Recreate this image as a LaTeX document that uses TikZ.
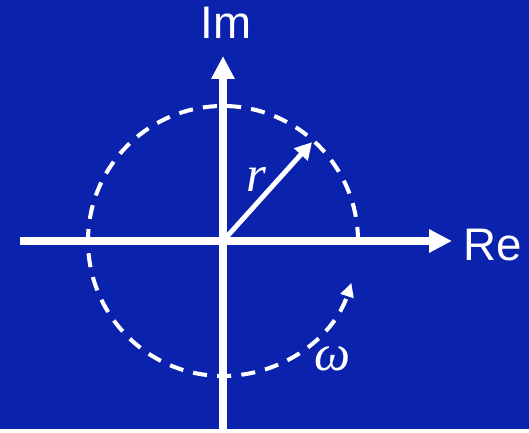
\documentclass[tikz,border=0pt]{standalone}
\usepackage{fontspec}
\setmainfont{Liberation Sans}
\newfontfamily\symfont{Liberation Serif}
\definecolor{bgblue}{RGB}{10,34,172}
\definecolor{chalk}{RGB}{255,255,255}
\usepackage{tikz}
\usetikzlibrary{arrows.meta}

\begin{document}
\begin{tikzpicture}[x=0.02cm, y=0.02cm,
    axis/.style={chalk, line width=4pt, -{Triangle[length=13pt, width=12.5pt]}},
    lbl/.style={text=chalk, inner sep=0pt, font=\fontsize{26}{30}\selectfont},
    sym/.style={text=chalk, inner sep=0pt, font=\symfont\itshape\fontsize{29}{33}\selectfont}]
        \fill[bgblue] (0,0) rectangle (529,429);
        \coordinate (O) at (223,188);
        \coordinate (west) at (20,188);
        \coordinate (east) at (452,188);
        \coordinate (south) at (223,0);
        \coordinate (north) at (223,373);
        \path (O) ++(48:133) coordinate (rtip);
        \path (O) ++(0:135) coordinate (arcstart);
        % axes
        \draw[axis] (west) -- (east);
        \draw[axis] (south) -- (north);
        \node[lbl] (im) at (226,406) {Im};
        \node[lbl] (re) at (493,184) {Re};
        % circle, radius and sense of rotation
        \draw[chalk, line width=2.3pt, dash pattern=on 8pt off 5.8pt,
              -{Triangle[length=8pt, width=7.4pt]}]
              (arcstart) arc[start angle=0, end angle=342, radius=135];
        \draw[chalk, line width=2.8pt, -{Triangle[length=9.5pt, width=10pt]}] (O) -- (rtip);
        \node[sym] (r) at (256,249) {r};
        \node[sym] (w) at (332,70) {ω};
      \end{tikzpicture}
\end{document}
